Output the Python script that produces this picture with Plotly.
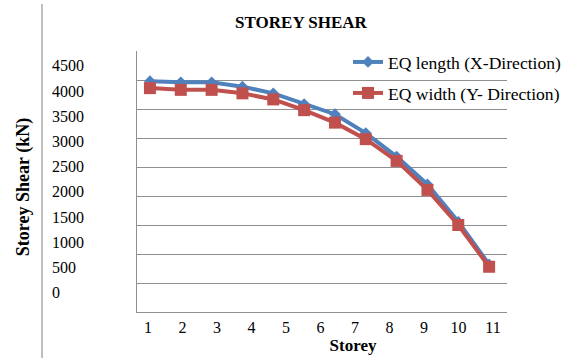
import plotly.graph_objects as go

# ---- data ----
storeys = [1, 2, 3, 4, 5, 6, 7, 8, 9, 10, 11, 12]
eq_length_x = [3980, 3960, 3960, 3885, 3770, 3585, 3410, 3085, 2680, 2200, 1555, 820]
eq_width_y = [3860, 3830, 3830, 3770, 3665, 3480, 3265, 2980, 2605, 2105, 1500, 780]
storey_labels = [1, 2, 3, 4, 5, 6, 7, 8, 9, 10, 11]
shear_labels = [0, 500, 1000, 1500, 2000, 2500, 3000, 3500, 4000, 4500]
series_names = ["EQ length (X-Direction)", "EQ width (Y- Direction)"]

W, H = 573, 358
FONT = "Liberation Serif"
BLUE = "#4F81BD"
RED = "#C0504D"
GRID = "#8f8f8f"


def fx(px):
    return px / W


def fy(py):
    return 1 - py / H


fig = go.Figure()
fig.add_trace(go.Scatter(
    x=storeys, y=eq_length_x, name=series_names[0], mode="lines+markers",
    line=dict(color=BLUE, width=4),
    marker=dict(symbol="diamond", size=9, color=BLUE),
    legend="legend",
))
fig.add_trace(go.Scatter(
    x=storeys, y=eq_width_y, name=series_names[1], mode="lines+markers",
    line=dict(color=RED, width=4),
    marker=dict(symbol="square", size=12, color=RED),
    legend="legend2",
))
# carrier trace for the label axes
fig.add_trace(go.Scatter(x=[None], y=[None], xaxis="x2", yaxis="y2",
                         showlegend=False, hoverinfo="skip"))

fig.update_layout(
    width=W, height=H,
    margin=dict(l=0, r=0, t=0, b=0),
    paper_bgcolor="white", plot_bgcolor="rgba(0,0,0,0)",
    font=dict(family=FONT, color="black", size=16),
    title=dict(text="<b>STOREY SHEAR</b>", x=fx(301), xanchor="center",
               y=fy(22), yanchor="middle",
               font=dict(family=FONT, size=17, color="black")),
    xaxis=dict(domain=[fx(137), fx(507)], range=[0.58, 12.58],
               showgrid=False, zeroline=False, showticklabels=False,
               showline=True, linecolor=GRID, linewidth=1, ticks=""),
    yaxis=dict(domain=[fy(312), fy(51)], range=[0, 4500], dtick=500,
               showgrid=True, gridcolor=GRID, gridwidth=1, zeroline=False,
               showticklabels=False, showline=True, linecolor=GRID,
               linewidth=1, ticks=""),
    xaxis2=dict(domain=[fx(140), fx(566)],
                range=[1 + (140 - 148) / 34.5, 1 + (566 - 148) / 34.5],
                anchor="free", position=fy(312),
                tickvals=storey_labels, ticktext=[str(v) for v in storey_labels],
                ticks="", showgrid=False, zeroline=False, showline=False,
                ticklabelstandoff=4,
                tickfont=dict(family=FONT, size=16, color="black"),
                title=dict(text="<b>Storey</b>", standoff=3,
                           font=dict(family=FONT, size=17, color="black"))),
    yaxis2=dict(domain=[fy(326), fy(48)],
                range=[(292.7 - 326) / 0.05044, (292.7 - 48) / 0.05044],
                anchor="free", position=fx(48), side="left",
                ticklabelposition="inside",
                tickvals=shear_labels, ticktext=[str(v) for v in shear_labels],
                ticks="", showgrid=False, zeroline=False, showline=False,
                tickfont=dict(family=FONT, size=16, color="black"),
                title=dict(text="<b>Storey Shear (kN)</b>", standoff=16,
                           font=dict(family=FONT, size=18, color="black"))),
    legend=dict(x=fx(348), xanchor="left", y=fy(62), yanchor="middle",
                bgcolor="rgba(0,0,0,0)", borderwidth=0,
                font=dict(family=FONT, size=17.6, color="black")),
    legend2=dict(x=fx(348), xanchor="left", y=fy(93), yanchor="middle",
                 bgcolor="rgba(0,0,0,0)", borderwidth=0,
                 font=dict(family=FONT, size=17.6, color="black")),
    shapes=[dict(type="line", xref="paper", yref="paper",
                 x0=fx(42), x1=fx(42), y0=0, y1=fy(4),
                 line=dict(color="#808080", width=1))],
)

fig.write_html("out.html", post_script="document.body.style.margin='0';",
               config={"displayModeBar": False})
